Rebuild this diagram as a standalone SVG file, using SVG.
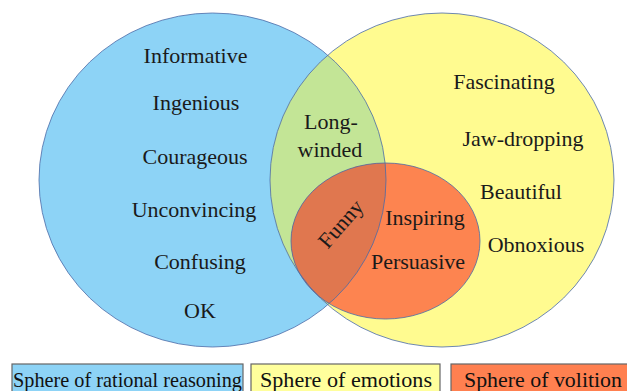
<svg xmlns="http://www.w3.org/2000/svg" width="627" height="391" viewBox="0 0 627 391">
<style>
.lbl{font-family:"Liberation Serif","Times New Roman",serif;font-size:22px;fill:#1a1a1a;text-anchor:middle}
.leg{font-family:"Liberation Serif","Times New Roman",serif;font-size:22px;fill:#111}
.edge{fill:none;stroke:#4a6aa8;stroke-width:1;stroke-opacity:0.8}
.box{stroke:#666;stroke-width:1.2}
</style>
<defs>
<clipPath id="cBlue"><ellipse cx="212.5" cy="180" rx="173.5" ry="167"/></clipPath>
</defs>
<rect width="627" height="391" fill="#ffffff"/>
<g id="rational">
<ellipse cx="212.5" cy="180" rx="173.5" ry="167" fill="#8dd3f6"/>
</g>
<g id="emotions">
<ellipse cx="442" cy="180" rx="172" ry="167" fill="#fffb90"/>
<ellipse cx="442" cy="180" rx="172" ry="167" fill="#c3e596" clip-path="url(#cBlue)"/>
</g>
<g id="volition">
<ellipse cx="385.5" cy="241" rx="94.5" ry="78" fill="#fd8450"/>
<ellipse cx="385.5" cy="241" rx="94.5" ry="78" fill="#e0774f" clip-path="url(#cBlue)"/>
</g>
<g id="outlines">
<ellipse class="edge" cx="212.5" cy="180" rx="173.5" ry="167"/>
<ellipse class="edge" cx="442" cy="180" rx="172" ry="167"/>
<ellipse class="edge" cx="385.5" cy="241" rx="94.5" ry="78"/>
</g>
<g id="labels-rational">
<text class="lbl" x="195.5" y="63">Informative</text>
<text class="lbl" x="196" y="110">Ingenious</text>
<text class="lbl" x="195" y="164">Courageous</text>
<text class="lbl" x="194" y="217">Unconvincing</text>
<text class="lbl" x="200" y="269">Confusing</text>
<text class="lbl" x="200" y="318">OK</text>
</g>
<g id="labels-emotions">
<text class="lbl" x="504" y="89">Fascinating</text>
<text class="lbl" x="523" y="146">Jaw-dropping</text>
<text class="lbl" x="521" y="199">Beautiful</text>
<text class="lbl" x="536" y="252">Obnoxious</text>
</g>
<g id="labels-overlap">
<text class="lbl" x="331" y="129">Long-</text>
<text class="lbl" x="330" y="157">winded</text>
<text class="lbl" transform="translate(341,224) rotate(-49)" x="0" y="7">Funny</text>
<text class="lbl" x="425" y="225">Inspiring</text>
<text class="lbl" x="418" y="269">Persuasive</text>
</g>
<g id="legend">
<g id="legend-rational">
<rect class="box" x="12" y="364" width="231" height="32" fill="#8dd3f6"/>
<text class="leg" x="13" y="387" textLength="229" lengthAdjust="spacingAndGlyphs">Sphere of rational reasoning</text>
</g>
<g id="legend-emotions">
<rect class="box" x="251" y="364" width="189" height="32" fill="#ffff9c"/>
<text class="leg" x="260" y="387" textLength="172" lengthAdjust="spacingAndGlyphs">Sphere of emotions</text>
</g>
<g id="legend-volition">
<rect class="box" x="451" y="364" width="190" height="32" fill="#ff8050"/>
<text class="leg" x="464" y="387" textLength="158" lengthAdjust="spacingAndGlyphs">Sphere of volition</text>
</g>
</g>
</svg>
